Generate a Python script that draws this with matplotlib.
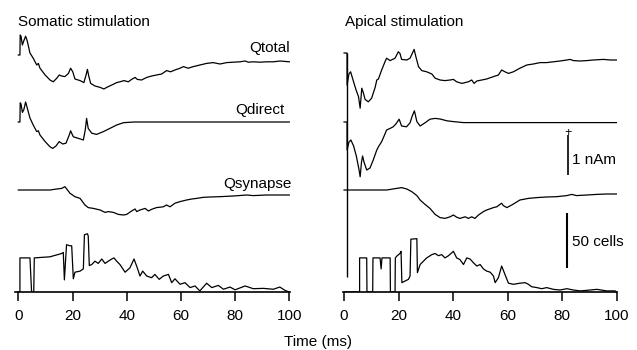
import matplotlib

matplotlib.use("Agg")
from matplotlib import pyplot as plt

plt.rcParams["font.family"] = ["Liberation Sans", "DejaVu Sans"]

# dipole moments in nAm relative to their baseline, cell counts in cells
SOMA_TOTAL_T = [0, 0.6, 0.7, 1.0, 1.5, 2.0, 2.7, 3.3, 4.3, 5.5, 6.8, 7.4, 8.0, 9.9, 11.7, 12.9,
                14.2, 15.1, 16.0, 17.2, 18.5, 19.3, 20.1, 20.9, 22.8, 24.2, 25.0, 25.5, 26.0,
                26.7, 28.3, 30.2, 31.6, 32.6, 34.5, 36.3, 37.5, 39.0, 40.6, 41.8, 43.1, 43.9,
                45.5, 47.4, 49.2, 51.0, 52.9, 54.7, 56.2, 57.8, 59.7, 60.9, 62.7, 64.6, 67.0,
                69.5, 71.9, 74.4, 76.9, 79.3, 81.8, 83.7, 84.9, 86.7, 89.2, 91.6, 94.1, 96.6, 100]
SOMA_TOTAL_V = [-0.05, -0.05, 0.45, 0.42, 0.2, 0.3, 0.42, 0.3, 0.0, -0.13, -0.3, -0.26, -0.38,
                -0.55, -0.675, -0.72, -0.63, -0.55, -0.575, -0.59, -0.51, -0.38, -0.47, -0.65,
                -0.69, -0.74, -0.55, -0.41, -0.575, -0.76, -0.825, -0.86, -0.9, -0.86, -0.8,
                -0.74, -0.72, -0.69, -0.72, -0.66, -0.61, -0.66, -0.675, -0.61, -0.575, -0.55,
                -0.525, -0.44, -0.47, -0.425, -0.38, -0.34, -0.38, -0.34, -0.3, -0.26, -0.24,
                -0.275, -0.24, -0.23, -0.22, -0.2, -0.23, -0.22, -0.23, -0.22, -0.22, -0.2, -0.22]

SOMA_DIRECT_T = [0, 0.6, 0.7, 1.0, 1.5, 2.0, 2.7, 3.3, 4.3, 5.5, 6.8, 7.4, 8.0, 9.9, 11.7, 12.7,
                 13.9, 15.1, 16.4, 17.6, 18.8, 19.3, 20.3, 22.2, 24.0, 24.7, 25.2, 25.8, 27.1,
                 28.9, 31.4, 33.8, 36.3, 38.8, 42.7, 100]
SOMA_DIRECT_V = [0, 0, 0.48, 0.45, 0.24, 0.3, 0.5, 0.35, 0.1, -0.075, -0.24, -0.22, -0.325,
                 -0.49, -0.62, -0.66, -0.6, -0.49, -0.55, -0.53, -0.325, -0.22, -0.37, -0.41,
                 -0.45, -0.2, 0.09, -0.16, -0.28, -0.31, -0.24, -0.16, -0.075, -0.017, 0, 0]

SOMA_SYN_T = [0, 11.7, 14.2, 16.0, 17.2, 19.1, 20.9, 22.8, 24.6, 25.8, 27.7, 30.2, 32.0, 33.2,
              35.1, 36.9, 38.8, 40.0, 41.8, 43.1, 43.7, 44.9, 46.8, 48.0, 49.2, 51.0, 53.5,
              54.7, 56.0, 57.8, 59.7, 62.1, 64.0, 65.8, 68.3, 70.7, 74.4, 79.3, 84.3, 86.7,
              91.6, 100]
SOMA_SYN_V = [0, 0, 0.025, 0.04, 0.083, -0.083, -0.167, -0.21, -0.375, -0.44, -0.46, -0.5,
              -0.56, -0.54, -0.56, -0.61, -0.625, -0.61, -0.525, -0.475, -0.54, -0.5, -0.46,
              -0.525, -0.483, -0.44, -0.42, -0.375, -0.42, -0.33, -0.29, -0.25, -0.225, -0.21,
              -0.183, -0.175, -0.167, -0.15, -0.125, -0.14, -0.125, -0.125]

SOMA_CELLS_T = [0, 0.6, 0.6, 4.3, 4.9, 5.7, 5.9, 11.7, 16.0, 16.6, 17.0, 17.8, 19.1, 19.7, 20.3,
                20.9, 22.8, 24.0, 24.4, 25.5, 25.8, 26.2, 27.1, 28.3, 29.5, 30.8, 32.0, 33.2,
                34.5, 35.3, 36.3, 37.5, 39.4, 41.2, 42.7, 43.9, 44.9, 45.9, 47.4, 49.2, 50.4,
                52.0, 53.5, 55.4, 56.6, 57.8, 59.7, 61.5, 63.4, 65.2, 67.0, 69.5, 71.4, 73.8,
                75.7, 78.1, 80.0, 83.7, 86.7, 90.4, 94.1, 96.5, 98.4, 100]
SOMA_CELLS_N = [0, 0, 31, 31, 0, 0, 31, 32, 35, 36, 11, 43, 42, 42, 12, 18, 19, 21, 52, 53, 51,
                24, 25, 28, 26, 30, 26, 28, 30, 31, 28, 25, 18, 22, 30, 22, 14.5, 19, 14.5, 13,
                16, 11.5, 14.5, 16, 8.5, 12, 7, 8.5, 4, 5.5, 1, 8, 4, 6, 2.5, 4.5, 2, 5.5, 3,
                3.3, 2.5, 4.5, 1.5, 0]

APIC_TOTAL_T = [0, 1.1, 1.1, 1.8, 2.4, 3.4, 4.4, 5.3, 5.9, 6.5, 7.1, 7.7, 8.9, 10.1, 11.4, 12.0,
                12.6, 13.8, 15.0, 15.6, 16.9, 18.7, 19.9, 20.5, 21.1, 23.0, 24.2, 25.7, 26.4,
                27.3, 28.5, 30.3, 32.2, 33.4, 35.2, 37.0, 38.9, 40.1, 41.3, 43.2, 44.4, 45.6,
                46.8, 47.7, 48.7, 50.5, 52.3, 54.8, 56.6, 57.8, 59.0, 60.3, 62.1, 64.5, 67.0,
                69.4, 71.9, 74.3, 76.8, 79.2, 81.7, 82.9, 84.1, 86.6, 89.0, 91.4, 95.1, 97.6, 100]
APIC_TOTAL_V = [0, 0, -0.8, -0.52, -0.47, -0.7, -0.925, -1.09, -1.38, -0.88, -1.0, -1.16, -1.22,
                -1.13, -0.86, -0.675, -0.65, -0.425, -0.22, -0.13, -0.19, -0.13, 0.03, -0.01,
                -0.16, -0.175, -0.13, 0.09, -0.11, -0.34, -0.44, -0.47, -0.525, -0.63, -0.675,
                -0.69, -0.675, -0.66, -0.72, -0.76, -0.74, -0.72, -0.675, -0.76, -0.7, -0.675,
                -0.65, -0.59, -0.55, -0.425, -0.47, -0.51, -0.47, -0.38, -0.3, -0.275, -0.24,
                -0.24, -0.22, -0.2, -0.175, -0.16, -0.19, -0.2, -0.19, -0.175, -0.16, -0.175,
                -0.175]

APIC_DIRECT_T = [0, 1.1, 1.1, 1.8, 2.5, 3.5, 4.5, 5.5, 5.9, 6.4, 6.8, 7.3, 8.3, 9.5, 10.7, 12.0,
                 12.6, 13.8, 15.0, 15.6, 16.9, 18.0, 19.0, 20.2, 21.1, 22.9, 24.2, 25.0, 25.8,
                 26.7, 27.9, 29.7, 31.5, 33.4, 35.2, 37.7, 40.1, 43.8, 100]
APIC_DIRECT_V = [0, 0, -0.7, -0.5, -0.45, -0.6, -0.85, -1.2, -1.37, -1.0, -0.85, -1.0, -1.2,
                 -1.15, -0.95, -0.7, -0.62, -0.49, -0.3, -0.2, -0.16, -0.12, -0.05, 0.07, -0.1,
                 -0.12, -0.02, 0.15, 0.28, 0.01, -0.1, -0.02, 0.07, 0.09, 0.075, 0.03, 0.01,
                 -0.015, -0.015]

APIC_SYN_T = [0, 15.6, 19.3, 21.1, 23.0, 24.8, 26.7, 27.9, 29.7, 31.5, 33.4, 35.2, 37.0, 38.9,
              40.1, 41.3, 42.5, 44.4, 45.6, 46.8, 48.0, 49.3, 51.1, 52.3, 54.8, 56.0, 57.8,
              58.4, 59.7, 61.5, 64.5, 67.6, 70.7, 74.3, 78.0, 81.7, 83.5, 85.3, 89.0, 92.7,
              96.3, 100]
APIC_SYN_V = [0, 0, 0.04, 0.06, 0.025, -0.04, -0.14, -0.25, -0.36, -0.46, -0.61, -0.69, -0.71,
              -0.67, -0.625, -0.68, -0.71, -0.67, -0.71, -0.67, -0.71, -0.625, -0.54, -0.5,
              -0.44, -0.42, -0.33, -0.39, -0.44, -0.375, -0.25, -0.21, -0.19, -0.175, -0.167,
              -0.14, -0.11, -0.14, -0.125, -0.11, -0.1, -0.1]

APIC_CELLS_T = [0, 5.7, 5.7, 8.3, 8.4, 10.5, 10.6, 13.2, 13.6, 13.9, 16.9, 17.0, 18.7, 18.8,
                19.5, 20.5, 20.9, 21.2, 22.4, 23.6, 24.2, 24.5, 26.7, 26.9, 27.9, 29.1, 30.3,
                32.2, 33.4, 34.6, 35.8, 37.0, 38.3, 40.1, 41.3, 42.5, 43.8, 45.0, 46.2, 47.4,
                48.7, 49.9, 51.1, 52.3, 53.6, 54.8, 55.4, 56.6, 57.8, 59.0, 60.3, 62.1, 64.5,
                66.4, 67.6, 68.8, 70.7, 72.5, 74.3, 76.8, 79.2, 81.7, 84.1, 86.6, 89.0, 92.7,
                96.3, 99.4, 100]
APIC_CELLS_N = [0, 0, 31, 31, 0, 0, 31, 31, 21, 31, 31, 0, 0, 31, 33, 35, 37, 8.5, 10, 11.5,
                14.5, 48, 48.5, 17.6, 25, 28, 31, 34, 35, 33, 34, 31, 33, 37, 31, 29.5, 25, 31,
                30, 26.7, 23.6, 25, 21, 19, 18, 14.5, 8.5, 13, 23.6, 16, 8, 7, 8, 8.5, 7, 4.8,
                4, 3, 4, 2.4, 1.8, 3, 1.8, 1, 1.5, 2.4, 1, 1, 0]

# stimulus artifact in the apical recording: time (ms) and extent (nAm)
ARTIFACT_T = 1.1
ARTIFACT_Y = (0.375, 5.975)

TRACE_NAMES = ["Qtotal", "Qdirect", "Qsynapse"]
TRACE_OFFSETS = [5.975, 4.25, 2.55]
CELL_SCALE = 1.375 / 50  # 50 cells drawn as tall as 1.375 nAm
XTICKS = [0, 20, 40, 60, 80, 100]

FS = 11


def style_axis(axis, xlim):
    axis.set_xlim(*xlim)
    axis.set_ylim(0, 6.55)
    for side in ("left", "right", "top"):
        axis.spines[side].set_visible(False)
    axis.spines["bottom"].set_linewidth(1.2)
    axis.set_yticks([])
    axis.set_xticks(XTICKS)
    axis.tick_params(axis="x", direction="out", length=6.5, width=1.1, pad=6, labelsize=FS)
    axis.patch.set_visible(False)


def draw_panel(axis, traces, cells_t, cells_n):
    for (t, v), offset in zip(traces, TRACE_OFFSETS):
        axis.plot(t, [offset + value for value in v], color="black", linewidth=0.9)
    axis.plot(cells_t, [n * CELL_SCALE for n in cells_n], color="black", linewidth=0.9)


figure = plt.figure(figsize=(6.37, 3.5), dpi=100)
left = figure.add_axes([15 / 637, 58 / 350, 275 / 637, 262 / 350])
right = figure.add_axes([342.7 / 637, 58 / 350, 274.3 / 637, 262 / 350])
style_axis(left, (-1.22, 100.26))
style_axis(right, (-0.5, 100.1))

draw_panel(left,
           [(SOMA_TOTAL_T, SOMA_TOTAL_V), (SOMA_DIRECT_T, SOMA_DIRECT_V),
            (SOMA_SYN_T, SOMA_SYN_V)],
           SOMA_CELLS_T, SOMA_CELLS_N)
draw_panel(right,
           [(APIC_TOTAL_T, APIC_TOTAL_V), (APIC_DIRECT_T, APIC_DIRECT_V),
            (APIC_SYN_T, APIC_SYN_V)],
           APIC_CELLS_T, APIC_CELLS_N)
right.vlines(ARTIFACT_T, *ARTIFACT_Y, color="black", linewidth=1.0)

# trace names on the somatic panel
left.text(100.3, 6.0, TRACE_NAMES[0], ha="right", va="baseline", fontsize=FS)
left.text(98.4, 4.45, TRACE_NAMES[1], ha="right", va="baseline", fontsize=FS)
left.text(100.9, 2.6, TRACE_NAMES[2], ha="right", va="baseline", fontsize=FS)

# scale bars
right.vlines(82.1, 2.925, 3.925, color="black", linewidth=1.2)
right.text(82.1, 3.98, "+", ha="center", va="center", fontsize=9)
right.text(83.6, 3.3, "1 nAm", ha="left", va="center", fontsize=FS)
right.vlines(81.8, 0.6, 0.6 + 50 * CELL_SCALE, color="black", linewidth=1.5)
right.text(83.6, 1.25, "50 cells", ha="left", va="center", fontsize=FS)

figure.text(18 / 637, 1 - 26 / 350, "Somatic stimulation", ha="left", va="baseline", fontsize=FS)
figure.text(345 / 637, 1 - 26 / 350, "Apical stimulation", ha="left", va="baseline", fontsize=FS)
figure.text(0.5, 1 - 346 / 350, "Time (ms)", ha="center", va="baseline", fontsize=FS)

figure.savefig("out.png", dpi=100)
plt.close(figure)
